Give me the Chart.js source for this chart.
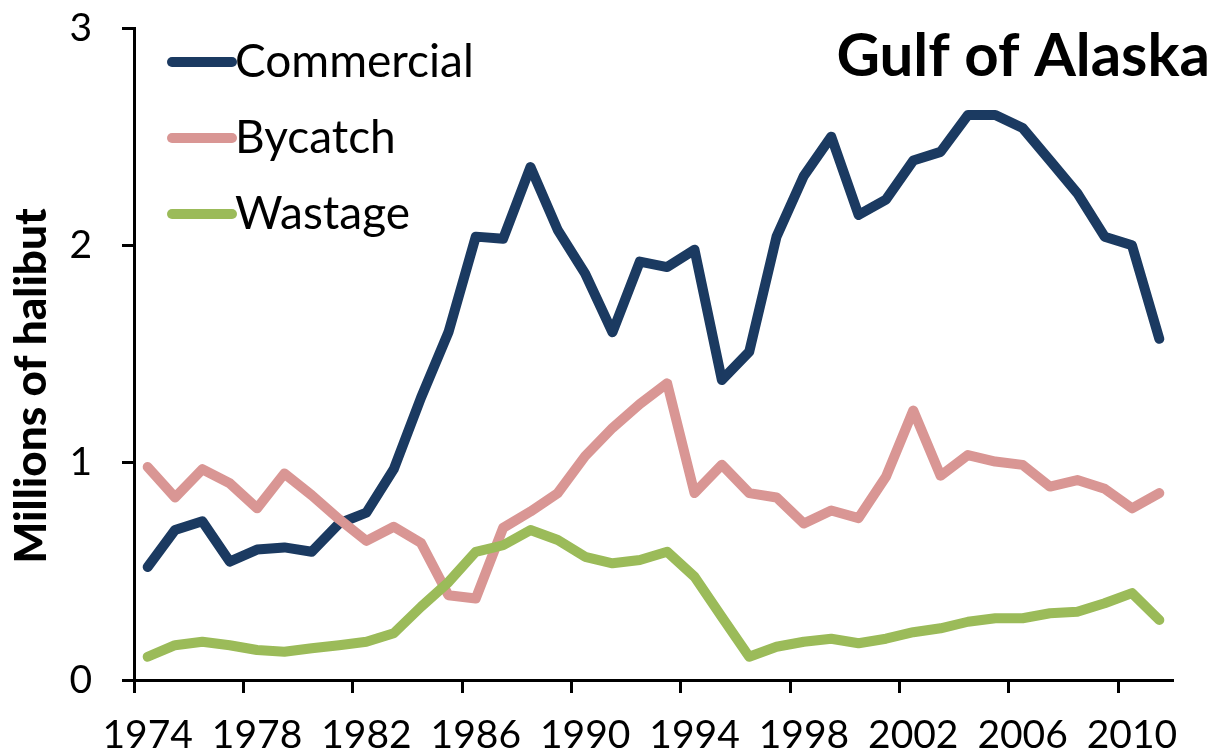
<!DOCTYPE html>
<html>
<head>
<meta charset="utf-8">
<title>Gulf of Alaska halibut</title>
<script src="https://cdn.jsdelivr.net/npm/chart.js@4/dist/chart.umd.min.js"></script>
<style>
  html, body { margin: 0; padding: 0; background: #fff; }
  #wrap { width: 1222px; height: 756px; position: relative; }
</style>
</head>
<body>
<div id="wrap"><canvas id="halibutChart" width="1222" height="756"></canvas></div>
<script>
var years = [1974, 1975, 1976, 1977, 1978, 1979, 1980, 1981, 1982, 1983,
  1984, 1985, 1986, 1987, 1988, 1989, 1990, 1991, 1992, 1993,
  1994, 1995, 1996, 1997, 1998, 1999, 2000, 2001, 2002, 2003,
  2004, 2005, 2006, 2007, 2008, 2009, 2010, 2011];

var commercial = [0.52, 0.69, 0.73, 0.545, 0.60, 0.61, 0.59, 0.72, 0.77, 0.97,
  1.30, 1.60, 2.04, 2.03, 2.36, 2.07, 1.87, 1.60, 1.925, 1.90,
  1.98, 1.38, 1.51, 2.04, 2.32, 2.50, 2.14, 2.21, 2.39, 2.43,
  2.60, 2.60, 2.54, 2.39, 2.24, 2.04, 2.00, 1.57];

var bycatch = [0.98, 0.84, 0.97, 0.905, 0.79, 0.95, 0.85, 0.74, 0.64, 0.705,
  0.63, 0.39, 0.375, 0.70, 0.775, 0.86, 1.03, 1.16, 1.27, 1.365,
  0.86, 0.99, 0.86, 0.84, 0.72, 0.78, 0.745, 0.935, 1.24, 0.94,
  1.035, 1.005, 0.99, 0.89, 0.92, 0.88, 0.79, 0.86];

var wastage = [0.107, 0.16, 0.176, 0.16, 0.138, 0.13, 0.146, 0.16, 0.176, 0.215,
  0.337, 0.45, 0.59, 0.62, 0.69, 0.644, 0.567, 0.537, 0.552, 0.59,
  0.475, 0.29, 0.107, 0.153, 0.176, 0.19, 0.169, 0.19, 0.22, 0.238,
  0.268, 0.284, 0.284, 0.307, 0.314, 0.353, 0.40, 0.276];

var seriesNames = ["Commercial", "Bycatch", "Wastage"];
var seriesColors = ["#1B3A61", "#D99694", "#9BBB59"];
var yTicks = [0, 1, 2, 3];

var FONT = "Lato, 'Open Sans', sans-serif";

// legend, chart title and y axis title are drawn by hand (Excel-style placement)
var decorPlugin = {
  id: "decor",
  afterDraw: function (chart) {
    var ctx = chart.ctx;
    var area = chart.chartArea;
    ctx.save();

    // legend, top left inside the plot
    var rowY = [62, 138, 214];
    chart.data.datasets.forEach(function (ds, i) {
      var y = rowY[i];
      ctx.strokeStyle = ds.borderColor;
      ctx.lineWidth = 10;
      ctx.lineCap = "round";
      ctx.beginPath();
      ctx.moveTo(area.left + 38, y);
      ctx.lineTo(area.left + 98, y);
      ctx.stroke();
      ctx.fillStyle = "#000";
      ctx.font = "46px " + FONT;
      ctx.textAlign = "left";
      ctx.textBaseline = "middle";
      ctx.fillText(ds.label, area.left + 101, y);
    });

    // title
    ctx.fillStyle = "#000";
    ctx.font = "bold 60px " + FONT;
    ctx.textAlign = "right";
    ctx.textBaseline = "alphabetic";
    ctx.fillText("Gulf of Alaska", 1210, 76);

    // y axis title
    ctx.translate(32, 386);
    ctx.rotate(-Math.PI / 2);
    ctx.font = "900 44px " + FONT;
    ctx.textAlign = "center";
    ctx.textBaseline = "middle";
    ctx.fillText("Millions of halibut", 0, 0);

    ctx.restore();
  }
};

function makeDataset(i, values, order) {
  return {
    label: seriesNames[i],
    data: values,
    borderColor: seriesColors[i],
    backgroundColor: seriesColors[i],
    borderWidth: 10,
    borderCapStyle: "round",
    borderJoinStyle: "round",
    pointRadius: 0,
    pointHoverRadius: 0,
    tension: 0,
    fill: false,
    order: order
  };
}

var ctx = document.getElementById("halibutChart").getContext("2d");
new Chart(ctx, {
  type: "line",
  data: {
    labels: years,
    datasets: [
      makeDataset(0, commercial, 2),
      makeDataset(1, bycatch, 1),
      makeDataset(2, wastage, 0)
    ]
  },
  options: {
    responsive: false,
    animation: false,
    devicePixelRatio: 1,
    layout: { padding: { top: 28, right: 49, bottom: 0, left: 0 } },
    plugins: {
      legend: { display: false },
      tooltip: { enabled: false }
    },
    scales: {
      x: {
        type: "category",
        offset: true,
        afterFit: function (scale) { scale.height = 76; },
        border: { display: true, color: "#000", width: 3 },
        grid: {
          offset: true,
          drawOnChartArea: false,
          drawTicks: true,
          tickLength: 13,
          tickWidth: 3,
          tickColor: function (c) { return c.index % 4 === 0 ? "#000" : "rgba(0,0,0,0)"; }
        },
        ticks: {
          autoSkip: false,
          maxRotation: 0,
          minRotation: 0,
          padding: 19,
          color: "#000",
          font: { family: FONT, size: 39 },
          callback: function (v, i) { return i % 4 === 0 ? String(years[i]) : ""; }
        }
      },
      y: {
        min: yTicks[0],
        max: yTicks[yTicks.length - 1],
        afterFit: function (scale) {
          scale.width = 134;
          scale.paddingTop = 0;
          scale.paddingBottom = 0;
        },
        afterBuildTicks: function (scale) {
          scale.ticks = yTicks.map(function (v) { return { value: v }; });
        },
        border: { display: true, color: "#000", width: 3 },
        grid: {
          drawOnChartArea: false,
          drawTicks: true,
          tickLength: 12,
          tickWidth: 3,
          tickColor: "#000"
        },
        ticks: {
          padding: 30,
          color: "#000",
          font: { family: FONT, size: 39 }
        }
      }
    }
  },
  plugins: [decorPlugin]
});
</script>
</body>
</html>
